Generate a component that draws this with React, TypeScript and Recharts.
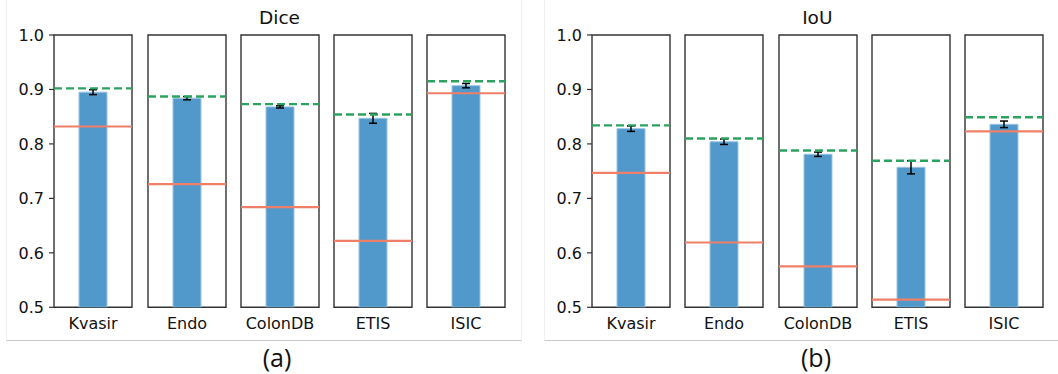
import React from "react";
import {
  ComposedChart,
  Bar,
  ErrorBar,
  XAxis,
  YAxis,
  ReferenceLine,
  ReferenceArea,
} from "recharts";

const datasets = ["Kvasir", "Endo", "ColonDB", "ETIS", "ISIC"];

const diceMean = [0.895, 0.884, 0.868, 0.847, 0.907];
const diceErr = [0.0045, 0.003, 0.002, 0.009, 0.004];
const diceGreen = [0.902, 0.887, 0.873, 0.854, 0.915];
const diceRed = [0.832, 0.726, 0.684, 0.622, 0.893];

const iouMean = [0.828, 0.804, 0.781, 0.757, 0.836];
const iouErr = [0.005, 0.005, 0.004, 0.012, 0.006];
const iouGreen = [0.834, 0.810, 0.788, 0.769, 0.849];
const iouRed = [0.747, 0.619, 0.575, 0.514, 0.823];

const yTicks = [0.5, 0.6, 0.7, 0.8, 0.9, 1.0];

const BLUE = "#5299CB";
const GREEN = "#2CA25F";
const RED = "#EF7F68";
const FRAME = "#333333";
const FONT = "'DejaVu Sans', sans-serif";

const BOX_W = 78;
const PLOT_TOP = 34.7;
const PLOT_H = 272.3;
const TOP_M = 14;
const XAX_H = 30;
const Y_AX_W = 55;

type SubProps = {
  name: string;
  mean: number;
  err: number;
  green: number;
  red: number;
  left: number;
  showY: boolean;
};

function SubPlot({ name, mean, err, green, red, left, showY }: SubProps) {
  const yw = showY ? Y_AX_W : 0;
  const width = yw + BOX_W + 6;
  const height = TOP_M + PLOT_H + XAX_H;
  const data = [{ name, mean, err }];
  return (
    <div
      style={{
        position: "absolute",
        left: left - yw - 3,
        top: PLOT_TOP - TOP_M,
      }}
    >
      <ComposedChart
        width={width}
        height={height}
        data={data}
        margin={{ top: TOP_M, right: 3, left: 3, bottom: 0 }}
        barCategoryGap={0}
      >
        <XAxis
          dataKey="name"
          type="category"
          height={XAX_H}
          tickLine={false}
          axisLine={false}
          tick={{ fill: "#111", fontSize: 16, fontFamily: FONT }}
          tickMargin={4}
        />
        <YAxis
          type="number"
          domain={[0.5, 1.0]}
          ticks={yTicks}
          allowDataOverflow
          width={yw}
          hide={!showY}
          tick={{ fill: "#111", fontSize: 16, fontFamily: FONT }}
          tickLine={{ stroke: FRAME, strokeWidth: 1.2 }}
          tickSize={5}
          tickMargin={5}
          tickFormatter={(v: number) => v.toFixed(1)}
          axisLine={false}
          interval={0}
        />
        <Bar
          dataKey="mean"
          fill={BLUE}
          stroke="#9cc4e2"
          strokeWidth={1}
          barSize={28}
          isAnimationActive={false}
        >
          <ErrorBar
            dataKey="err"
            width={4}
            stroke="#000"
            strokeWidth={1.5}
            direction="y"
            isAnimationActive={false}
          />
        </Bar>
        <ReferenceLine
          y={red}
          stroke={RED}
          strokeWidth={2.2}
          ifOverflow="extendDomain"
        />
        <ReferenceLine
          y={green}
          stroke={GREEN}
          strokeWidth={2.4}
          strokeDasharray="8 4"
          ifOverflow="extendDomain"
        />
        <ReferenceArea
          y1={0.5}
          y2={1.0}
          fill="none"
          fillOpacity={0}
          stroke={FRAME}
          strokeWidth={1.4}
          ifOverflow="visible"
        />
      </ComposedChart>
    </div>
  );
}

const leftBoxes = [54.3, 147.5, 240.6, 333.7, 426.8];
const rightBoxes = [592.3, 685.4, 778.5, 871.6, 964.7];

export default function App() {
  return (
    <div
      style={{
        position: "absolute",
        left: 0,
        top: 0,
        width: 1058,
        height: 374,
        background: "#fff",
        overflow: "hidden",
      }}
    >
      <div
        style={{
          position: "absolute",
          left: 6,
          top: -2,
          width: 516,
          height: 343,
          borderLeft: "1px solid #f0f0f0",
          borderRight: "1px solid #f0f0f0",
          borderBottom: "1px solid #c8c8c8",
          boxSizing: "border-box",
        }}
      />
      <div
        style={{
          position: "absolute",
          left: 544,
          top: -2,
          width: 514,
          height: 343,
          borderLeft: "1px solid #f0f0f0",
          borderBottom: "1px solid #c8c8c8",
          boxSizing: "border-box",
        }}
      />
      <div
        style={{
          position: "absolute",
          left: 279.5 - 60,
          width: 120,
          top: 6,
          textAlign: "center",
          fontFamily: FONT,
          fontSize: 18.5,
          color: "#111",
          lineHeight: "24px",
        }}
      >
        Dice
      </div>
      <div
        style={{
          position: "absolute",
          left: 817.3 - 60,
          width: 120,
          top: 6,
          textAlign: "center",
          fontFamily: FONT,
          fontSize: 18.5,
          color: "#111",
          lineHeight: "24px",
        }}
      >
        IoU
      </div>
      {datasets.map((d, i) => (
        <SubPlot
          key={"dice-" + d}
          name={d}
          mean={diceMean[i]}
          err={diceErr[i]}
          green={diceGreen[i]}
          red={diceRed[i]}
          left={leftBoxes[i]}
          showY={i === 0}
        />
      ))}
      {datasets.map((d, i) => (
        <SubPlot
          key={"iou-" + d}
          name={d}
          mean={iouMean[i]}
          err={iouErr[i]}
          green={iouGreen[i]}
          red={iouRed[i]}
          left={rightBoxes[i]}
          showY={i === 0}
        />
      ))}
      <div
        style={{
          position: "absolute",
          left: 277 - 40,
          width: 80,
          top: 340,
          textAlign: "center",
          fontFamily: "'Open Sans', sans-serif",
          fontSize: 25,
          color: "#111",
          lineHeight: "34px",
        }}
      >
        (a)
      </div>
      <div
        style={{
          position: "absolute",
          left: 816 - 40,
          width: 80,
          top: 340,
          textAlign: "center",
          fontFamily: "'Open Sans', sans-serif",
          fontSize: 25,
          color: "#111",
          lineHeight: "34px",
        }}
      >
        (b)
      </div>
    </div>
  );
}
